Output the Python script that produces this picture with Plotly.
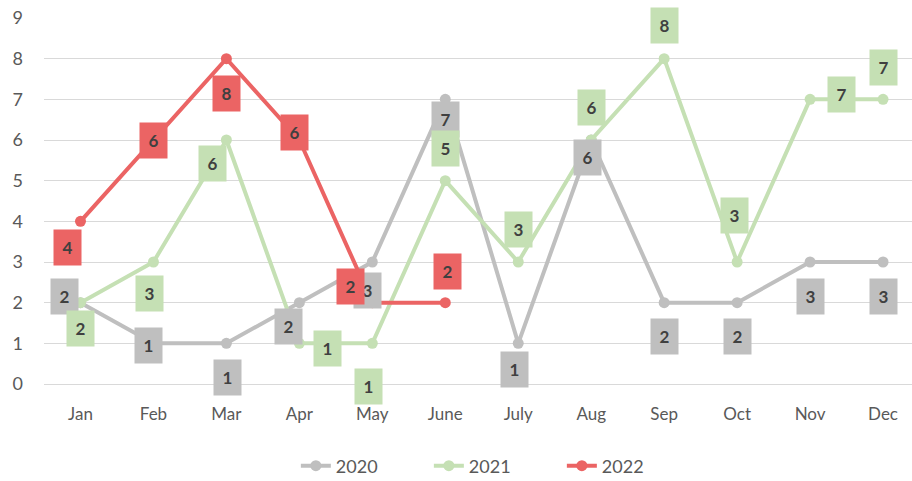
import plotly.graph_objects as go

months = ["Jan", "Feb", "Mar", "Apr", "May", "June", "July", "Aug", "Sep", "Oct", "Nov", "Dec"]
v2020 = [2, 1, 1, 2, 3, 7, 1, 6, 2, 2, 3, 3]
v2021 = [2, 3, 6, 1, 1, 5, 3, 6, 8, 3, 7, 7]
v2022 = [4, 6, 8, 6, 2, 2]
series_names = ["2020", "2021", "2022"]

# label offsets (pixels, dx, dy with dy positive = up)
off2020 = [(-16, 6), (-5, -2), (1, -34), (-11, -24), (-5, -28), (0, -20),
           (-4, -26), (-4, -17), (0, -34), (0, -34), (0, -34), (0, -34)]
off2021 = [(0, -26), (-4, -31), (-14, -23), (28, -5), (-4, -43), (0, 32),
           (0, 33), (0, 33), (0, 33), (-3, 47), (31, 5), (0, 32)]
off2022 = [(-13, -26), (0, 0), (0, -35), (-5, 8), (-22, 16), (2, 31)]

colors = {"2020": "#BFBFBF", "2021": "#C5E0B4", "2022": "#EB6464"}
boxcol = {"2020": "#BFBFBF", "2021": "#C5E0B4", "2022": "#EB6464"}

fig = go.Figure()
data = [("2020", v2020, off2020), ("2021", v2021, off2021), ("2022", v2022, off2022)]
for name, vals, _ in data:
    fig.add_trace(go.Scatter(
        x=months[:len(vals)], y=vals, name=name, mode="lines+markers",
        line=dict(color=colors[name], width=4),
        marker=dict(color=colors[name], size=11),
        hoverinfo="skip",
    ))

annotations = []
for name, vals, offs in data:
    for m, v, (dx, dy) in zip(months, vals, offs):
        annotations.append(dict(
            x=m, y=v, xref="x", yref="y", text="<b>%d</b>" % v, showarrow=False,
            xshift=dx, yshift=dy, bgcolor=boxcol[name], width=27, height=35,
            borderpad=0, font=dict(family="Lato, Noto Sans, sans-serif", size=17, color="#404040"),
        ))

fig.update_layout(
    width=912, height=481,
    margin=dict(l=43.5, r=0, t=17.7, b=97.3, autoexpand=False),
    paper_bgcolor="white", plot_bgcolor="white",
    font=dict(family="Lato, Noto Sans, sans-serif", size=17, color="#595959"),
    annotations=annotations,
    showlegend=True,
    legend=dict(orientation="h", x=0.52, xanchor="center", y=-0.224, yanchor="middle",
                font=dict(size=18, color="#595959"), itemwidth=30, entrywidth=88,
                traceorder="normal"),
    xaxis=dict(type="category", range=[-0.5, 11.397], showgrid=False, zeroline=False,
               showline=False, ticks="", automargin=False, ticklabelstandoff=18,
               tickfont=dict(size=17, color="#595959")),
    yaxis=dict(range=[0, 9], dtick=1, showgrid=True, gridcolor="#D9D9D9", gridwidth=1.3,
               zeroline=True, zerolinecolor="#D9D9D9", zerolinewidth=1.3, showline=False,
               ticks="", automargin=False, ticklabelstandoff=20,
               tickfont=dict(size=18, color="#595959")),
)

fig.write_html("out.html", config={"displayModeBar": False},
               post_script="document.body.style.margin='0px';")
